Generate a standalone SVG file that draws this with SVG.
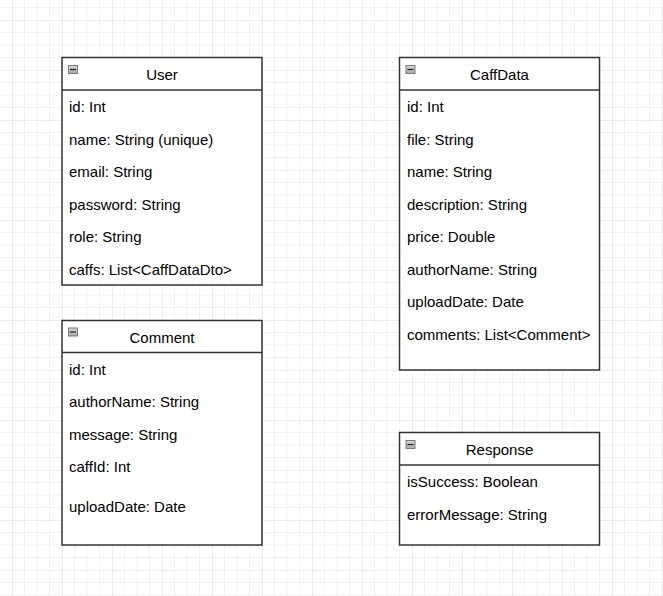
<svg xmlns="http://www.w3.org/2000/svg" width="663" height="596" viewBox="0 0 663 596">
<defs>
<pattern id="grid" patternUnits="userSpaceOnUse" x="12" y="20" width="50" height="50">
<path d="M12.5 0V50M25 0V50M37.5 0V50M0 12.5H50M0 25H50M0 37.5H50" stroke="#f1f1f1" stroke-width="1" fill="none"/>
<path d="M0 0V50M0 0H50" stroke="#dcdcdc" stroke-width="1" fill="none"/>
</pattern>
<linearGradient id="tg" x1="0" y1="0" x2="0" y2="1">
<stop offset="0" stop-color="#d8d8d8"/>
<stop offset="1" stop-color="#a8a8a8"/>
</linearGradient>
<g id="toggle">
<rect x="0.5" y="0.5" width="9" height="8" fill="url(#tg)" stroke="#7a7a7a" stroke-width="1"/>
<path d="M2 4.5H8" stroke="#222" stroke-width="1.2"/>
</g>
</defs>
<style>
.box{fill:#fff;stroke:#333;stroke-width:1.5}
.sep{stroke:#333;stroke-width:1.5}
text{font-family:"Liberation Sans",Arial,sans-serif;font-size:15px;fill:#000}
.title{text-anchor:middle}
</style>
<rect width="663" height="596" fill="#fff"/>
<rect width="663" height="596" fill="url(#grid)"/>

<g id="User">
<rect class="box" x="62" y="57.5" width="200" height="227.5"/>
<line class="sep" x1="62" y1="90" x2="262" y2="90"/>
<use href="#toggle" x="68" y="65"/>
<text class="title" x="162" y="80">User</text>
<text x="69" y="112">id: Int</text>
<text x="69" y="144.5">name: String (unique)</text>
<text x="69" y="177">email: String</text>
<text x="69" y="209.5">password: String</text>
<text x="69" y="242">role: String</text>
<text x="69" y="274.5">caffs: List&lt;CaffDataDto&gt;</text>
</g>

<g id="CaffData">
<rect class="box" x="399.5" y="57.5" width="200" height="312.5"/>
<line class="sep" x1="399.5" y1="90" x2="599.5" y2="90"/>
<use href="#toggle" x="405.5" y="65"/>
<text class="title" x="499.5" y="80">CaffData</text>
<text x="407" y="112">id: Int</text>
<text x="407" y="144.5">file: String</text>
<text x="407" y="177">name: String</text>
<text x="407" y="209.5">description: String</text>
<text x="407" y="242">price: Double</text>
<text x="407" y="274.5">authorName: String</text>
<text x="407" y="307">uploadDate: Date</text>
<text x="407" y="339.5">comments: List&lt;Comment&gt;</text>
</g>

<g id="Comment">
<rect class="box" x="62" y="320.5" width="200" height="224.5"/>
<line class="sep" x1="62" y1="352.5" x2="262" y2="352.5"/>
<use href="#toggle" x="68" y="327.5"/>
<text class="title" x="162" y="342.5">Comment</text>
<text x="69" y="374.5">id: Int</text>
<text x="69" y="407">authorName: String</text>
<text x="69" y="439.5">message: String</text>
<text x="69" y="472">caffId: Int</text>
<text x="69" y="511.5">uploadDate: Date</text>
</g>

<g id="Response">
<rect class="box" x="399.5" y="432.5" width="200" height="112.5"/>
<line class="sep" x1="399.5" y1="465" x2="599.5" y2="465"/>
<use href="#toggle" x="405.5" y="440"/>
<text class="title" x="499.5" y="455">Response</text>
<text x="407" y="487">isSuccess: Boolean</text>
<text x="407" y="519.5">errorMessage: String</text>
</g>

<g id="connectors"/>
</svg>
